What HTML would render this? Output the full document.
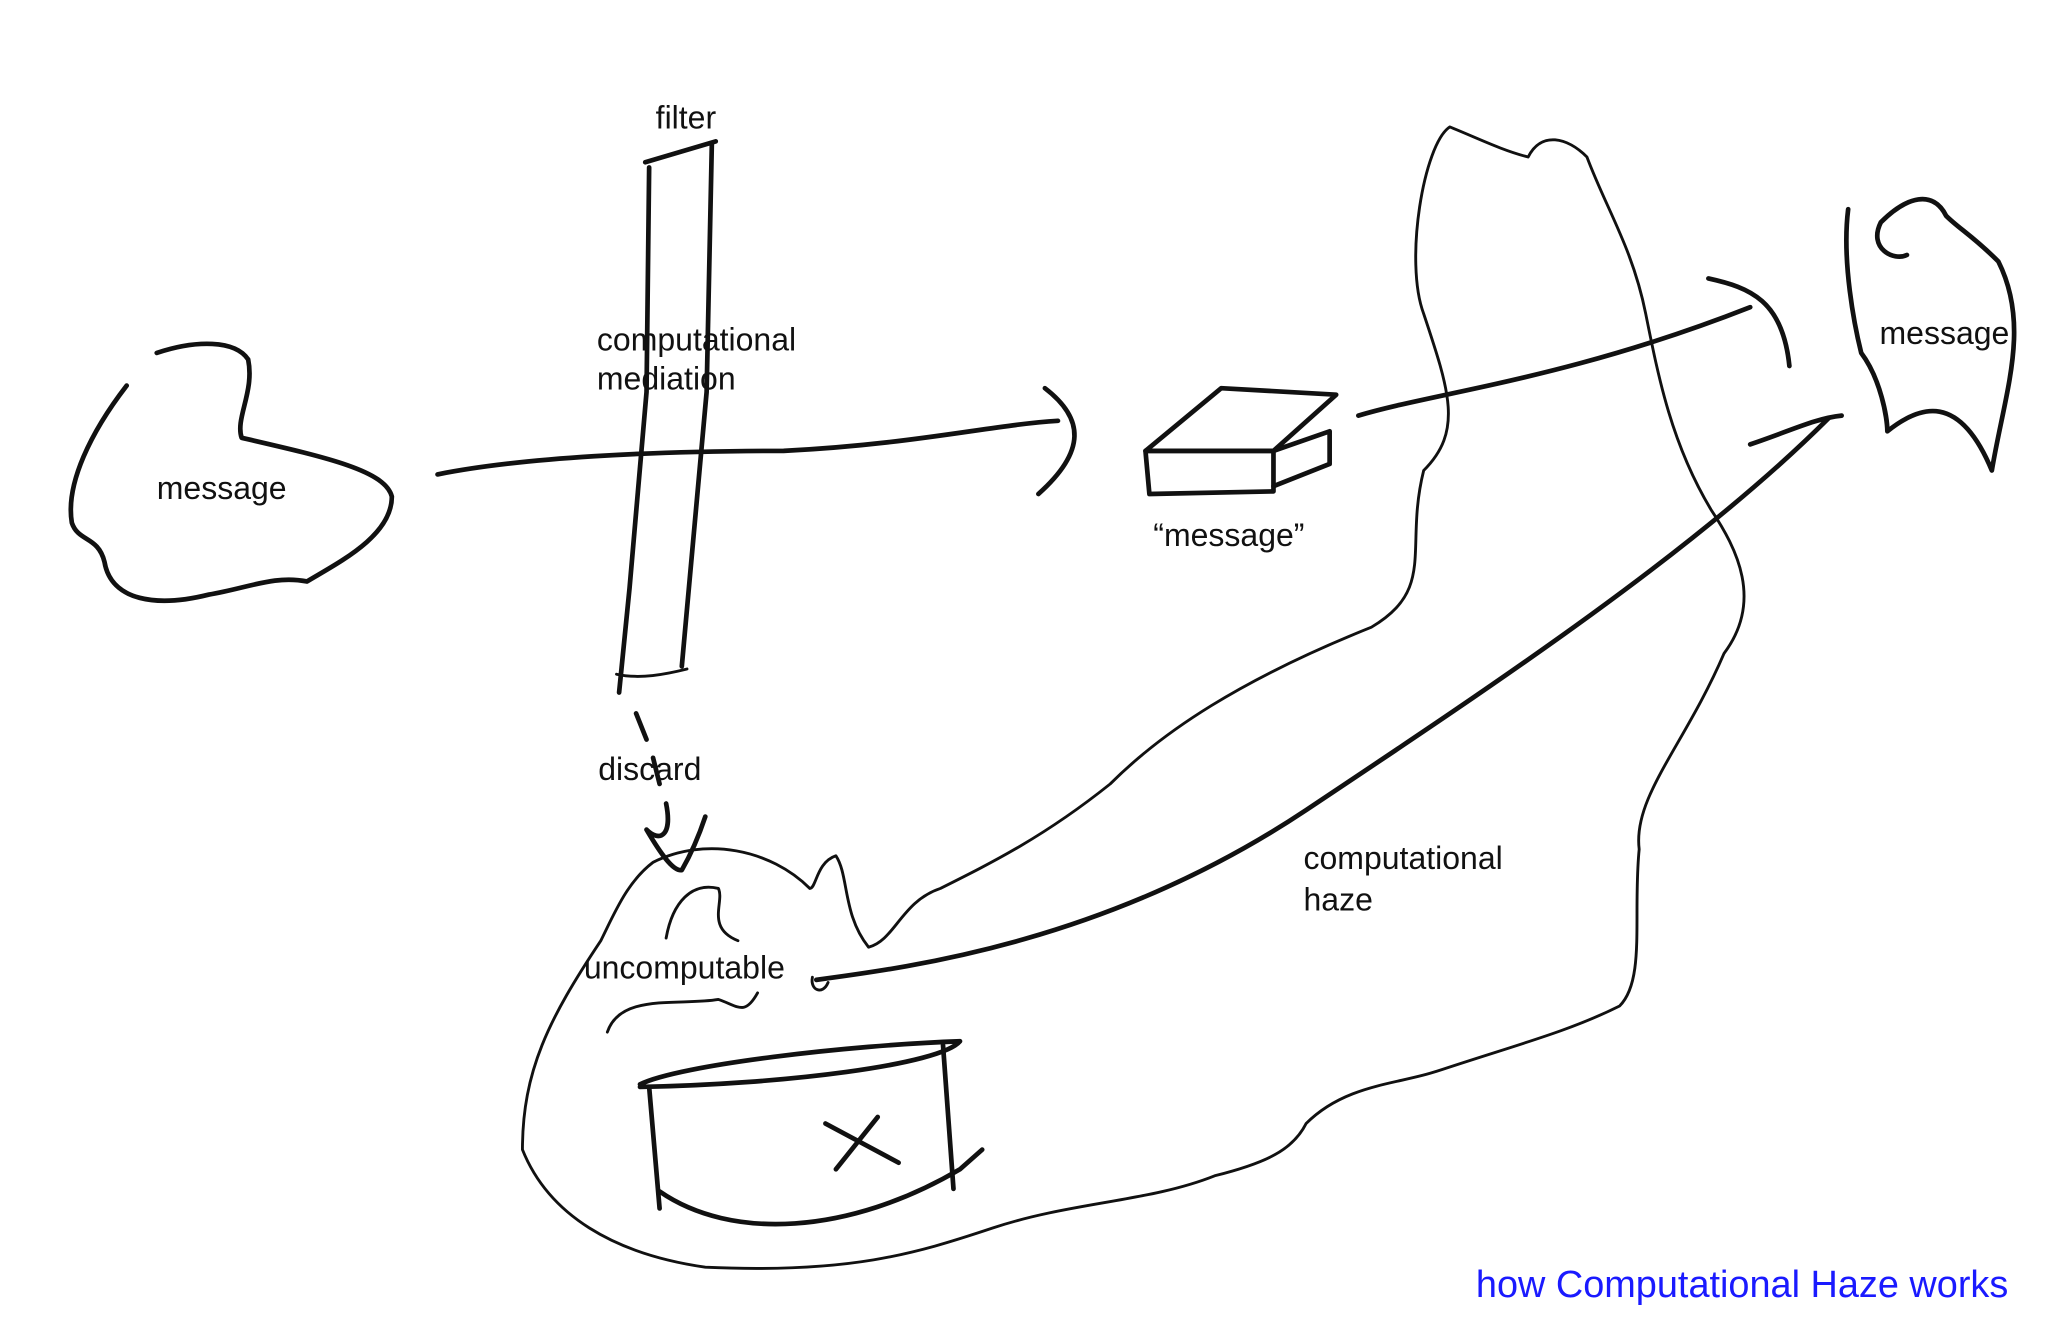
<!DOCTYPE html>
<html>
<head>
<meta charset="utf-8">
<style>
html,body{margin:0;padding:0;background:#fff;}
svg{display:block;}
text{font-family:"Liberation Sans",sans-serif;font-size:24.5px;fill:#111;}
.s{fill:none;stroke:#111;stroke-width:3.6;stroke-linecap:round;stroke-linejoin:round;}
.t{fill:none;stroke:#111;stroke-width:2.2;stroke-linecap:round;stroke-linejoin:round;}
</style>
</head>
<body>
<svg width="2048" height="1338" viewBox="0 0 1568 1024">
<rect width="1568" height="1024" fill="#fff"/>
<path class="s" d="M97,295 C70,330 50,370 55,400 C60,415 75,410 80,430 C85,460 120,465 160,455 C190,450 210,440 235,445 C260,430 300,410 300,380 C295,360 250,350 185,335 C180,320 195,300 190,275 C180,260 150,260 120,270"/>
<text x="120" y="382">message</text>
<path class="s" d="M335,363 C400,350 500,345 600,345 C700,340 760,325 810,322"/>
<path class="s" d="M800,297 C830,320 832,345 795,378"/>
<g>
<path class="s" d="M497,128 L495,300 L482,450 L474,530"/>
<path class="s" d="M545,110 L541,300 L522,510"/>
<path class="s" d="M494,124 L548,108"/>
<path class="t" d="M472,516 C490,520 510,516 526,512"/>
</g>
<text x="502" y="98">filter</text>
<text x="457" y="268">computational</text>
<text x="457" y="298">mediation</text>
<path class="s" d="M487,546 L495,566 M500,580 L505,600 M510,615 C515,640 505,645 495,635 C505,652 515,667 522,666 C530,652 535,640 540,625"/>
<text x="458" y="597">discard</text>
<g>
<path class="s" d="M877,345 L935,297 L1023,302 L975,345 Z"/>
<path class="s" d="M877,345 L975,345 L975,376 L880,378 Z"/>
<path class="s" d="M975,345 L1018,330 L1018,355 L975,372"/>
</g>
<text x="883" y="418">“message”</text>
<path class="s" d="M1040,318 C1100,300 1200,290 1340,235"/>
<path class="s" d="M1308,213 C1340,220 1365,230 1370,280"/>
<path class="s" d="M1415,160 C1410,200 1420,250 1425,270 C1440,290 1445,320 1445,330 C1470,310 1500,300 1525,360 C1535,300 1555,250 1530,200 C1510,180 1500,175 1490,165 C1480,145 1460,150 1440,170 C1430,190 1450,200 1460,195"/>
<text x="1439" y="263">message</text>
<path class="t" d="M1110,97 C1090,110 1075,200 1090,240 C1110,300 1120,330 1090,360 C1075,420 1100,450 1050,480 C950,520 890,560 850,600 C800,640 760,660 720,680 C690,690 685,720 665,725 C645,700 650,670 640,655 C625,660 625,680 620,680 C590,650 540,640 500,660 C480,675 470,700 460,720 C420,780 400,820 400,880 C420,930 470,960 540,970 C650,975 700,960 760,940 C820,920 880,920 930,900 C970,890 990,880 1000,860 C1030,830 1070,830 1100,820 C1160,800 1200,790 1240,770 C1260,750 1250,700 1255,650 C1250,610 1290,570 1320,500 C1350,460 1330,420 1310,390 C1280,340 1270,290 1260,240 C1250,190 1230,160 1215,120 C1200,105 1180,100 1170,120 C1150,115 1130,105 1110,97"/>
<text x="998" y="665">computational</text>
<text x="998" y="697">haze</text>
<path class="s" d="M625,750 C700,740 850,720 1000,620 C1150,520 1300,420 1400,320"/>
<path class="s" d="M1340,340 C1370,330 1390,320 1410,318"/>
<path class="t" d="M622,748 C620,758 630,762 634,752"/>
<path class="t" d="M510,718 C515,690 530,675 550,680 C555,690 540,710 565,720 M465,790 C475,760 520,770 550,765 C565,770 570,778 580,760"/>
<text x="447" y="749">uncomputable</text>
<g>
<path class="s" d="M490,830 C520,815 650,800 735,797 C720,815 600,830 490,832"/>
<path class="s" d="M497,832 L505,925"/>
<path class="s" d="M722,800 L730,910"/>
<path class="s" d="M505,912 C560,950 650,945 735,895 L752,880"/>
<path class="s" d="M632,860 L688,890 M672,855 L640,895"/>
</g>
<text x="1130" y="993" style="fill:#1a1aff;font-size:29px">how Computational Haze works</text>
</svg>
</body>
</html>
